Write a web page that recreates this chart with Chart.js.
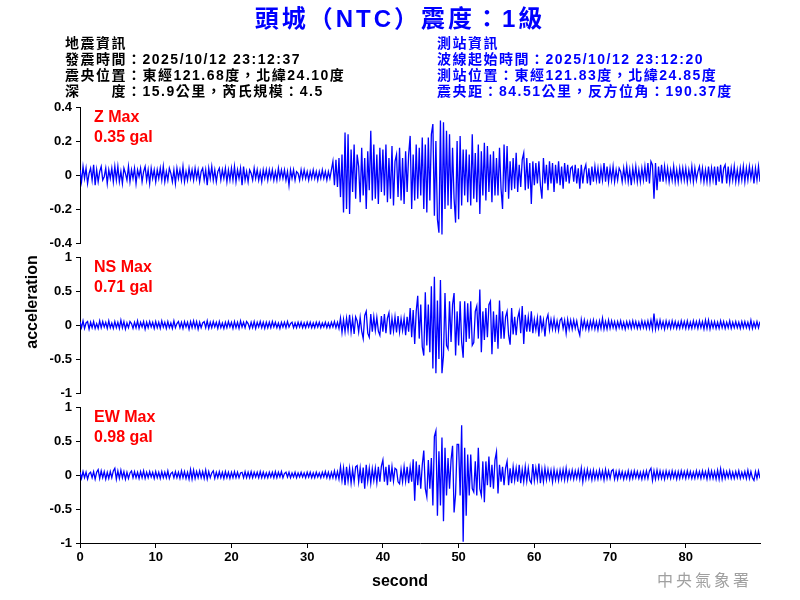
<!DOCTYPE html>
<html>
<head>
<meta charset="utf-8">
<script src="https://cdn.jsdelivr.net/npm/chart.js@4.4.1/dist/chart.umd.min.js"></script>
<style>
  body { margin: 0; background: #fff; }
  #wrap { position: relative; width: 800px; height: 600px; overflow: hidden;
          font-family: "Liberation Sans", Arial, "Noto Sans CJK TC", sans-serif; font-weight: bold; }
  canvas { position: absolute; left: 0; top: 0; }
  .txt { position: absolute; white-space: pre; }
  #title { left: 0; width: 800px; top: 5px; text-align: center; font-size: 24px; line-height: 28px; letter-spacing: 3px; color: #0000ff; }
  .info { top: 35px; font-size: 14px; line-height: 16px; letter-spacing: 1.5px; }
  .maxlbl { left: 94px; font-size: 16px; line-height: 20px; color: #ff0000; }
  #ylab { left: -68px; top: 293.5px; width: 200px; text-align: center; font-size: 16px; line-height: 16px; transform: rotate(-90deg); }
  #xlab { left: 300px; top: 573px; width: 200px; text-align: center; font-size: 16px; line-height: 16px; }
  #cwb { left: 657px; top: 570px; font-family: "Noto Sans CJK TC", sans-serif; font-size: 16px; line-height: 18px; letter-spacing: 3px; color: #a0a0a0; font-weight: normal; }
</style>
</head>
<body>
<div id="wrap">
  <canvas id="zChart" width="800" height="600"></canvas>
  <canvas id="nsChart" width="800" height="600"></canvas>
  <canvas id="ewChart" width="800" height="600"></canvas>

  <div class="txt" id="title">頭城（NTC）震度：1級</div>
  <div class="txt info" style="left:65px; color:#000;">地震資訊
發震時間：2025/10/12 23:12:37
震央位置：東經121.68度，北緯24.10度
深　　度：15.9公里，芮氏規模：4.5</div>
  <div class="txt info" style="left:437px; color:#0000ff;">測站資訊
波線起始時間：2025/10/12 23:12:20
測站位置：東經121.83度，北緯24.85度
震央距：84.51公里，反方位角：190.37度</div>

  <div class="txt maxlbl" style="top:107px;">Z Max
0.35 gal</div>
  <div class="txt maxlbl" style="top:257px;">NS Max
0.71 gal</div>
  <div class="txt maxlbl" style="top:407px;">EW Max
0.98 gal</div>

  <div class="txt" id="ylab">acceleration</div>
  <div class="txt" id="xlab">second</div>
  <div class="txt" id="cwb">中央氣象署</div>
</div>

<script>
// sampling step (s) of the traced waveforms, x axis range and ticks
const dt = 0.2;
const xMax = 89.8;
const xTicks = [0, 10, 20, 30, 40, 50, 60, 70, 80];
const zTicks = [-0.4, -0.2, 0, 0.2, 0.4];
const hTicks = [-1, -0.5, 0, 0.5, 1];

// Z component (gal), every 0.2 s (one row = 5 s)
const zValues = [
  0.03,-0.04,0.05,-0.02,0.04,-0.05,0.01,0.04,-0.03,0.06,-0.06,0.03,-0.04,0.02,0.05,-0.03,-0.01,0.04,-0.05,0.03,-0.02,0.04,-0.04,0.05,-0.03,
  0.05,-0.04,0.02,-0.05,0.04,0.01,-0.03,0.05,-0.04,0.03,-0.02,0.04,-0.05,0.03,-0.01,0.04,-0.04,0.02,0.05,-0.03,0.03,-0.05,0.04,-0.02,0.03,
  -0.04,0.03,-0.02,0.04,-0.03,0.05,-0.04,0.02,-0.03,0.04,0.01,-0.04,0.03,-0.05,0.04,-0.02,0.03,-0.03,0.05,-0.04,0.02,-0.03,0.04,-0.02,0.03,
  -0.03,0.04,-0.02,0.03,-0.04,0.02,0.04,-0.03,0.03,-0.06,0.04,-0.02,0.05,-0.03,0.03,-0.04,0.02,0.04,-0.03,0.03,-0.02,0.04,-0.04,0.03,-0.03,
  0.04,-0.03,0.05,-0.04,0.03,-0.02,0.04,-0.06,0.05,-0.03,0.02,-0.04,0.03,0.01,-0.03,0.04,-0.02,0.03,-0.03,0.02,-0.04,0.03,-0.02,0.03,-0.03,
  0.03,-0.02,0.03,-0.03,0.02,-0.03,0.04,-0.02,0.03,-0.02,0.03,-0.03,0.02,-0.06,0.03,-0.02,0.03,-0.03,0.02,0.01,-0.03,0.03,-0.02,0.03,-0.02,
  0.02,-0.03,0.02,-0.02,0.03,-0.02,0.02,-0.03,0.02,-0.02,0.03,-0.02,0.02,-0.03,0.02,-0.02,0.03,0.08,-0.06,0.09,-0.07,0.1,-0.13,0.12,-0.22,
  0.25,-0.2,0.24,-0.23,0.15,-0.1,0.18,-0.14,0.12,0.05,-0.16,0.16,-0.12,0.1,-0.2,0.14,-0.09,0.26,-0.15,0.18,-0.14,0.12,-0.17,0.16,-0.1,
  0.15,-0.12,0.18,-0.16,0.1,-0.14,0.17,-0.18,0.08,0.12,-0.13,0.16,-0.15,0.1,-0.17,0.14,-0.1,0.12,0.23,-0.2,0.12,-0.15,0.18,-0.14,0.16,
  -0.12,0.22,-0.2,0.18,-0.22,0.22,-0.15,0.24,0.3,-0.24,0.2,-0.26,-0.34,0.32,-0.35,0.31,-0.2,0.26,-0.18,0.24,-0.2,0.16,-0.14,-0.28,0.2,
  -0.26,0.23,-0.18,0.15,-0.12,0.15,-0.16,0.12,-0.18,0.24,-0.14,0.13,-0.16,0.18,-0.23,0.14,-0.12,0.19,-0.15,0.17,-0.1,0.12,-0.16,0.14,-0.12,
  0.1,-0.12,0.16,-0.08,-0.2,0.18,-0.1,0.17,-0.14,0.08,-0.09,0.1,-0.08,0.13,-0.1,0.06,-0.07,0.09,0.13,-0.09,0.1,-0.08,0.07,-0.17,0.08,
  -0.06,0.07,-0.05,0.08,-0.06,-0.14,0.1,-0.05,0.06,-0.09,0.08,-0.05,0.07,-0.1,0.06,-0.05,0.08,-0.06,0.05,-0.08,0.07,-0.04,0.06,-0.05,0.04,
  0.05,-0.04,0.06,-0.05,0.04,-0.08,0.06,-0.05,0.03,0.06,-0.05,0.04,-0.06,0.05,-0.04,0.05,-0.03,0.04,-0.05,0.04,-0.03,0.07,-0.04,0.05,-0.04,
  0.04,-0.03,0.05,-0.04,0.03,-0.03,0.04,0.02,-0.04,0.04,-0.03,0.05,-0.04,0.03,-0.06,0.04,-0.03,0.05,-0.04,0.03,-0.04,0.04,-0.03,0.05,-0.04,
  0.07,-0.05,0.08,0.06,-0.14,0.07,-0.09,0.05,-0.04,0.06,-0.04,0.05,-0.03,0.04,-0.04,0.03,-0.03,0.05,-0.04,0.03,-0.04,0.04,-0.03,0.04,-0.03,
  0.04,-0.04,0.03,-0.03,0.05,-0.04,0.04,-0.03,0.02,0.05,-0.03,0.04,-0.04,0.03,-0.04,0.05,-0.04,0.04,-0.03,0.05,-0.06,0.05,-0.04,0.06,-0.05,
  0.04,0.06,-0.05,0.05,-0.04,0.04,-0.03,0.05,-0.04,0.03,-0.04,0.04,-0.03,0.05,-0.04,0.04,-0.03,0.05,-0.02,0.04,-0.05,0.04,-0.03,0.05,-0.04
];

// NS component (gal)
const nsValues = [
  0.05,-0.04,0.06,-0.05,0.03,0.05,-0.06,0.04,-0.04,0.05,-0.05,0.02,-0.05,0.06,-0.04,0.05,-0.03,0.04,-0.05,0.06,-0.04,0.03,-0.05,0.05,-0.04,
  0.04,-0.05,0.07,-0.04,0.05,-0.06,0.03,-0.04,0.05,0.02,-0.05,0.04,-0.04,0.06,-0.05,0.04,-0.03,0.05,-0.06,0.04,-0.04,0.05,-0.03,0.04,-0.05,
  0.05,-0.04,0.04,-0.05,0.06,-0.03,0.04,-0.05,0.05,-0.04,0.03,-0.05,0.06,-0.04,0.02,0.05,-0.04,0.04,-0.05,0.05,-0.03,0.04,-0.06,0.05,-0.04,
  0.06,-0.04,0.05,-0.06,0.04,-0.04,0.03,0.05,-0.04,0.06,-0.05,0.04,-0.04,0.05,-0.03,0.04,-0.05,0.05,-0.04,0.03,-0.05,0.04,-0.04,0.05,-0.03,
  0.04,-0.05,0.05,-0.04,0.04,-0.05,0.06,-0.03,0.04,-0.04,0.05,0.02,-0.05,0.04,-0.04,0.05,-0.05,0.04,-0.03,0.05,-0.04,0.04,-0.05,0.04,-0.04,
  0.04,-0.04,0.05,-0.03,0.04,-0.04,0.03,-0.05,0.04,-0.03,0.04,-0.04,0.05,-0.03,0.02,0.04,-0.04,0.03,-0.04,0.04,-0.03,0.04,-0.04,0.03,-0.04,
  0.04,-0.03,0.04,-0.04,0.03,-0.04,0.04,-0.03,0.04,-0.04,0.03,-0.03,0.04,-0.04,0.03,-0.04,0.04,-0.03,0.05,-0.04,0.04,-0.05,0.1,-0.11,0.08,
  -0.1,0.1,-0.08,0.15,-0.1,0.09,-0.13,0.12,0.06,-0.1,0.11,-0.09,-0.2,0.14,0.2,-0.12,-0.18,0.16,-0.1,0.12,-0.08,0.11,-0.09,-0.15,0.13,
  -0.1,0.16,-0.12,0.1,0.18,-0.14,0.1,-0.09,0.12,-0.11,0.13,-0.1,0.09,-0.08,0.1,-0.15,0.12,-0.1,0.25,-0.18,0.22,-0.28,0.2,0.43,-0.2,
  0.3,-0.32,-0.45,0.48,-0.3,0.3,-0.4,0.57,-0.64,0.71,-0.71,0.36,-0.5,0.66,-0.71,-0.45,0.47,-0.3,-0.35,0.35,-0.25,0.3,0.47,-0.45,0.2,
  -0.3,0.35,-0.25,-0.48,0.35,-0.25,0.32,-0.2,0.35,-0.3,-0.26,0.2,0.28,-0.2,0.52,-0.4,0.2,-0.22,0.25,-0.18,0.3,0.35,-0.43,0.2,-0.25,
  0.15,-0.35,0.36,-0.2,0.2,-0.2,0.12,0.2,-0.15,-0.29,0.25,-0.14,0.12,-0.15,0.1,0.2,-0.12,0.28,-0.28,0.15,-0.1,0.12,-0.1,0.2,-0.12,
  0.08,-0.07,0.1,-0.17,0.14,-0.06,0.07,-0.17,0.08,0.15,-0.07,0.08,-0.06,0.09,-0.07,0.06,-0.08,0.07,0.1,-0.05,0.07,-0.12,0.08,-0.06,0.07,
  -0.06,0.07,-0.05,0.06,-0.07,-0.15,0.08,-0.05,0.07,-0.06,0.05,-0.07,0.06,-0.05,0.07,-0.06,0.05,-0.07,0.06,-0.05,0.1,-0.06,0.05,-0.06,0.07,
  -0.05,0.06,-0.04,0.05,-0.06,0.05,-0.04,0.06,-0.05,0.04,-0.06,0.05,-0.04,0.05,-0.05,0.06,-0.04,0.05,-0.05,0.04,-0.05,0.06,-0.04,0.05,-0.05,
  0.06,-0.05,0.07,-0.06,0.17,-0.06,0.06,-0.05,0.07,-0.04,0.05,-0.06,0.06,-0.04,0.05,-0.05,0.06,-0.04,0.05,-0.05,0.04,-0.05,0.06,-0.04,0.05,
  -0.05,0.06,-0.05,0.04,-0.05,0.06,-0.04,0.05,-0.05,0.06,-0.04,0.05,-0.06,0.07,-0.05,0.07,-0.06,0.05,-0.04,0.05,-0.05,0.04,-0.05,0.06,-0.04,
  0.05,-0.05,0.04,-0.04,0.06,-0.05,0.04,-0.04,0.05,-0.04,0.04,-0.05,0.05,-0.04,0.05,-0.04,0.04,-0.05,0.07,-0.05,0.04,-0.04,0.05,-0.04,0.05
];

// EW component (gal)
const ewValues = [
  0.04,-0.05,0.05,-0.04,0.04,-0.06,0.02,0.04,-0.04,0.05,-0.06,0.04,0.08,-0.05,0.06,-0.04,0.05,-0.06,0.04,-0.05,0.05,-0.04,0.06,0.1,-0.06,
  0.06,-0.05,0.07,-0.04,0.05,-0.06,0.04,-0.05,0.03,0.06,-0.04,0.05,-0.04,0.04,-0.05,0.05,-0.04,0.06,-0.05,0.04,-0.04,0.05,-0.03,0.04,-0.05,
  0.05,-0.04,0.04,-0.05,0.05,-0.04,0.04,-0.04,0.06,-0.05,0.02,0.04,-0.04,0.05,-0.04,0.04,-0.05,0.06,-0.04,0.05,-0.05,0.04,-0.06,0.08,-0.06,
  0.07,-0.05,0.05,-0.04,0.06,-0.04,0.05,-0.05,0.07,-0.06,0.05,-0.04,0.03,0.06,-0.05,0.04,-0.04,0.05,-0.04,0.04,-0.05,0.05,-0.04,0.04,-0.05,
  0.04,-0.04,0.05,-0.04,0.04,-0.04,0.03,0.04,-0.04,0.05,-0.04,0.04,-0.04,0.05,-0.04,0.04,-0.03,0.04,-0.04,0.05,-0.04,0.04,-0.04,0.03,-0.04,
  0.04,-0.03,0.04,-0.04,0.05,-0.04,0.04,-0.03,0.05,-0.04,0.02,0.04,-0.03,0.04,-0.04,0.03,-0.03,0.04,-0.04,0.03,-0.03,0.04,-0.03,0.03,-0.04,
  0.04,-0.03,0.04,-0.04,0.03,-0.04,0.04,-0.03,0.03,-0.04,0.04,-0.03,0.05,-0.04,0.04,-0.05,0.04,-0.04,0.06,-0.05,0.05,-0.06,0.12,-0.08,0.1,
  -0.15,0.12,-0.09,0.1,-0.12,0.08,-0.1,0.12,0.14,-0.1,0.1,-0.12,0.11,-0.2,0.15,-0.09,0.1,-0.12,0.09,-0.08,0.1,-0.11,0.12,-0.1,0.13,
  0.22,-0.1,0.12,-0.15,0.15,-0.1,0.12,-0.09,0.1,0.08,-0.1,-0.13,0.08,-0.1,0.12,-0.09,0.12,-0.12,0.11,-0.1,0.23,-0.38,0.2,-0.15,0.15,
  -0.2,0.15,0.36,-0.2,-0.32,0.22,-0.2,0.25,-0.45,0.57,0.65,-0.6,0.35,-0.45,0.55,-0.68,0.4,-0.3,0.25,-0.2,0.22,0.43,-0.55,-0.28,0.45,
  0.45,-0.3,0.73,-0.98,0.4,-0.6,0.3,-0.3,0.3,-0.2,-0.25,0.2,-0.3,0.4,-0.2,-0.3,0.2,-0.4,0.2,-0.15,0.27,-0.18,0.15,-0.2,0.22,
  0.34,-0.27,0.15,-0.1,0.12,-0.15,0.1,0.2,-0.15,0.1,-0.12,0.12,-0.08,0.1,-0.1,0.15,-0.12,0.08,-0.1,0.12,-0.09,0.1,-0.08,-0.12,0.16,
  -0.08,0.1,-0.07,0.17,-0.12,0.08,-0.1,0.1,-0.07,0.08,-0.06,0.07,-0.1,0.08,-0.07,0.06,-0.08,0.07,-0.06,0.08,-0.07,0.1,-0.07,0.06,-0.05,
  0.07,-0.06,0.06,-0.05,0.07,-0.06,0.1,-0.1,0.07,-0.06,0.08,-0.05,0.06,-0.07,0.07,-0.06,0.05,-0.06,0.07,-0.05,0.06,-0.07,0.08,-0.05,0.06,
  -0.05,0.06,0.08,-0.06,0.05,-0.06,0.06,-0.04,0.05,-0.06,0.04,-0.05,0.06,-0.06,0.05,-0.05,0.06,-0.04,0.05,-0.05,0.04,-0.06,0.05,-0.05,0.06,
  -0.05,0.06,0.1,-0.08,0.06,-0.06,0.07,-0.05,0.06,-0.05,0.05,-0.06,0.06,-0.04,0.05,-0.05,0.06,-0.04,0.05,-0.06,0.05,-0.05,0.06,-0.04,0.05,
  -0.05,0.06,-0.04,0.05,-0.05,0.04,-0.05,0.06,-0.04,0.05,-0.05,0.06,-0.04,0.05,-0.06,0.07,-0.05,0.06,-0.05,0.05,-0.06,0.07,-0.06,0.09,-0.06,
  0.06,-0.05,0.05,-0.04,0.06,-0.05,0.04,-0.05,0.05,-0.04,0.06,-0.05,0.04,-0.04,0.05,-0.05,0.07,-0.05,0.05,-0.04,-0.08,0.05,-0.05,0.06,-0.05
];

const tickFont = { family: "'Liberation Sans', Arial, sans-serif", size: 13, weight: 'bold' };

function fmtTick(v) {
  return String(Number(v.toFixed(2)));
}

function drawPanel(id, values, yTicks, top, bottom, showX) {
  const ctx = document.getElementById(id).getContext('2d');
  const points = values.map((v, i) => ({ x: i * dt, y: v }));

  return new Chart(ctx, {
    type: 'line',
    data: {
      datasets: [{
        data: points,
        borderColor: '#0000ff',
        borderWidth: 1.3,
        pointRadius: 0,
        tension: 0,
        fill: false
      }]
    },
    options: {
      responsive: false,
      animation: false,
      devicePixelRatio: 1,
      layout: {
        padding: { top: top, bottom: showX ? 600 - bottom - 50 : 600 - bottom, left: 0, right: 40 }
      },
      plugins: { legend: { display: false }, tooltip: { enabled: false } },
      scales: {
        x: {
          type: 'linear',
          display: showX,
          min: 0,
          max: xMax,
          afterBuildTicks: s => { s.ticks = xTicks.map(v => ({ value: v })); },
          afterFit: s => { s.height = showX ? 50 : 0; },
          ticks: { font: tickFont, color: '#000', maxRotation: 0, padding: 2, callback: v => fmtTick(v) },
          grid: { drawOnChartArea: false, drawTicks: true, tickLength: 5, color: '#000' },
          border: { display: true, color: '#000', width: 1 }
        },
        y: {
          min: yTicks[0],
          max: yTicks[yTicks.length - 1],
          afterBuildTicks: s => { s.ticks = yTicks.map(v => ({ value: v })); },
          afterFit: s => { s.width = 80; },
          ticks: { font: tickFont, color: '#000', padding: 4, callback: v => fmtTick(v) },
          grid: { drawOnChartArea: false, drawTicks: true, tickLength: 4, color: '#000' },
          border: { display: true, color: '#000', width: 1 }
        }
      }
    }
  });
}

drawPanel('zChart', zValues, zTicks, 107, 243, false);
drawPanel('nsChart', nsValues, hTicks, 257, 393, false);
drawPanel('ewChart', ewValues, hTicks, 407, 543, true);
</script>
</body>
</html>
